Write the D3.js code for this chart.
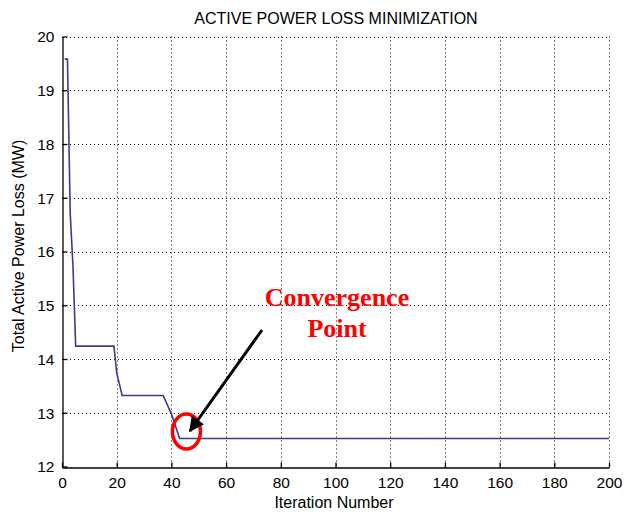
<!DOCTYPE html>
<html>
<head>
<meta charset="utf-8">
<script src="https://cdnjs.cloudflare.com/ajax/libs/d3/7.8.5/d3.min.js"></script>
<style>
  body { margin: 0; background: #fff; }
</style>
</head>
<body>
<svg></svg>
<script>
// values (iteration, loss in MW)
const iterations = [1, 2, 3, 4, 5, 19, 20, 22, 37, 40, 43, 200];
const loss = [19.58, 19.58, 16.71, 15.74, 14.24, 14.24, 13.74, 13.32, 13.32, 12.98, 12.52, 12.52];
const xTicks = [0, 20, 40, 60, 80, 100, 120, 140, 160, 180, 200];
const yTicks = [12, 13, 14, 15, 16, 17, 18, 19, 20];
const convergeAt = [45.5, 12.65];

const sans = "Arial, 'Liberation Sans', sans-serif";
const serif = "'Times New Roman', 'Liberation Serif', serif";

let width = 624;
let height = 512;
let svg = d3.select("svg").attr("width", width).attr("height", height);

let x = d3.scaleLinear().domain([0, 200]).range([62, 609]);
let y = d3.scaleLinear().domain([12, 20]).range([466.5, 36.5]);

// grid
let grid = svg.append("g").attr("stroke", "#000").attr("stroke-width", 1)
  .attr("stroke-dasharray", "1,3");
grid.selectAll("line.gx").data(xTicks.slice(1)).enter().append("line")
  .attr("x1", d => Math.round(x(d)) + 0.5).attr("x2", d => Math.round(x(d)) + 0.5)
  .attr("y1", y(20)).attr("y2", y(12));
grid.selectAll("line.gy").data(yTicks.slice(1)).enter().append("line")
  .attr("y1", d => Math.round(y(d)) + 0.5).attr("y2", d => Math.round(y(d)) + 0.5)
  .attr("x1", x(0)).attr("x2", x(200));

// axes
let xAxis = svg.append("g")
  .attr("transform", `translate(0,${Math.round(y(12)) + 0.5})`)
  .call(d3.axisBottom(x).tickValues(xTicks).tickSizeInner(-5).tickSizeOuter(0).tickPadding(9));
let yAxis = svg.append("g")
  .attr("transform", `translate(${Math.round(x(0)) + 0.5},0)`)
  .call(d3.axisLeft(y).tickValues(yTicks).tickSizeInner(-5).tickSizeOuter(0).tickPadding(8));
[xAxis, yAxis].forEach(a => {
  a.selectAll("path, line").attr("stroke", "#000").attr("stroke-width", 1.3);
  a.selectAll("text").attr("fill", "#000").attr("font-size", 15.5).attr("font-family", sans);
});
yAxis.selectAll("text").attr("dy", "0.35em");

// the series
let pts = iterations.map((d, i) => [d, loss[i]]);
svg.append("path")
  .datum(pts)
  .attr("fill", "none")
  .attr("stroke", "#3c3c8c")
  .attr("stroke-width", 1.6)
  .attr("d", d3.line().x(d => x(d[0])).y(d => y(d[1])));

// titles
svg.append("text").attr("x", 336).attr("y", 24).attr("text-anchor", "middle")
  .attr("font-family", sans).attr("font-size", 16).text("ACTIVE POWER LOSS MINIMIZATION");
svg.append("text").attr("x", 334).attr("y", 508).attr("text-anchor", "middle")
  .attr("font-family", sans).attr("font-size", 16).text("Iteration Number");
svg.append("text").attr("transform", "translate(24,246) rotate(-90)")
  .attr("text-anchor", "middle").attr("font-family", sans).attr("font-size", 16)
  .text("Total Active Power Loss (MW)");

// annotation
svg.append("defs").append("marker")
  .attr("id", "head").attr("viewBox", "0 0 10 10").attr("refX", 9).attr("refY", 5)
  .attr("markerWidth", 6).attr("markerHeight", 5).attr("orient", "auto")
  .append("path").attr("d", "M0,0 L10,5 L0,10 z").attr("fill", "#000");

svg.append("ellipse")
  .attr("cx", x(convergeAt[0])).attr("cy", y(convergeAt[1]))
  .attr("rx", 14).attr("ry", 17.5)
  .attr("fill", "none").attr("stroke", "#f00").attr("stroke-width", 3.5);

svg.append("line")
  .attr("x1", 262).attr("y1", 330).attr("x2", 190).attr("y2", 431)
  .attr("stroke", "#000").attr("stroke-width", 3)
  .attr("marker-end", "url(#head)");

let note = svg.append("text").attr("text-anchor", "middle")
  .attr("font-family", serif)
  .attr("font-weight", "bold").attr("font-size", 26).attr("fill", "#f00");
note.append("tspan").attr("x", 337).attr("y", 306).text("Convergence");
note.append("tspan").attr("x", 337).attr("y", 337).text("Point");
</script>
</body>
</html>
